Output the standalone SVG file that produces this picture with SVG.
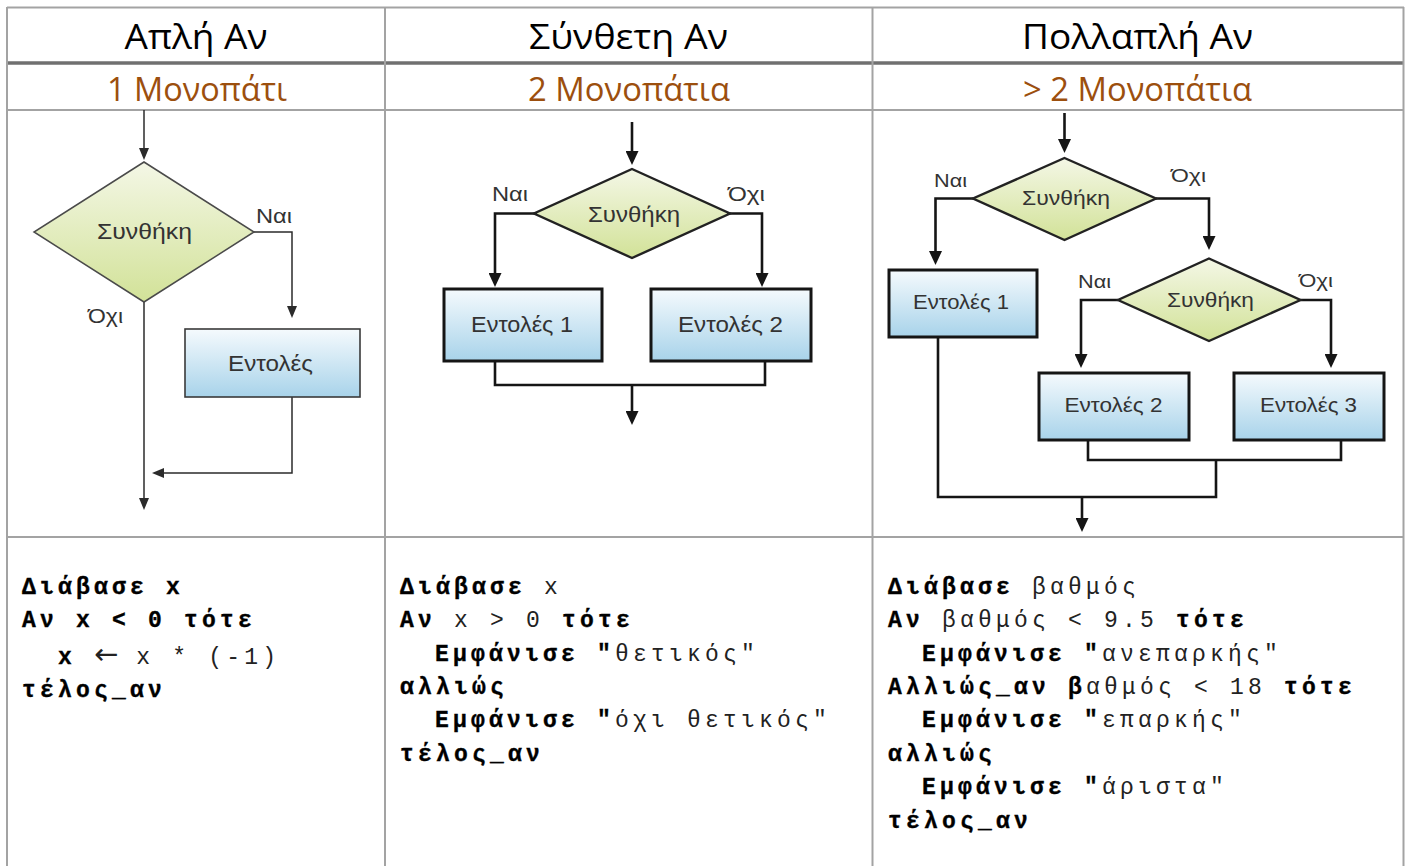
<svg xmlns="http://www.w3.org/2000/svg" width="1407" height="866" viewBox="0 0 1407 866">
  <style>
    .grid { stroke: #a3a3a3; stroke-width: 2; fill: none; }
    .grid-thick { stroke: #707070; stroke-width: 3.5; fill: none; }
    .head { font-family: "Open Sans", "Noto Sans", sans-serif; font-size: 35px; fill: #000; text-anchor: middle; }
    .sub { font-family: "Open Sans", "Noto Sans", sans-serif; font-size: 32px; fill: #9c4f0e; text-anchor: middle; }
    .lbl { font-family: "Liberation Sans", Arial, sans-serif; fill: #333; }
    .thin { stroke: #2b2b2b; stroke-width: 1.5; fill: none; }
    .bold { stroke: #151515; stroke-width: 2.6; fill: none; }
    .dec-thin { fill: url(#gDecision); stroke: #4a4a4a; stroke-width: 1.5; }
    .dec-bold { fill: url(#gDecision); stroke: #222; stroke-width: 2.4; }
    .box-thin { fill: url(#gProcess); stroke: #3a3a3a; stroke-width: 1.6; }
    .box-bold { fill: url(#gProcess); stroke: #151515; stroke-width: 3; }
    .code { font-family: "Liberation Mono", "Courier New", monospace; font-size: 23px; letter-spacing: 4.2px; fill: #222; white-space: pre; }
    .b { font-weight: bold; fill: #000; stroke: #000; stroke-width: 0.35px; }
    .arrow { font-family: "DejaVu Sans", sans-serif; font-size: 29px; letter-spacing: 0px; }
  </style>
  <defs>
    <linearGradient id="gDecision" x1="0" y1="0" x2="0" y2="1">
      <stop offset="0" stop-color="#f4f7e6"/>
      <stop offset="1" stop-color="#d2e298"/>
    </linearGradient>
    <linearGradient id="gProcess" x1="0" y1="0" x2="0" y2="1">
      <stop offset="0" stop-color="#f5fafd"/>
      <stop offset="1" stop-color="#a8d3ea"/>
    </linearGradient>
    <marker id="ahThin" viewBox="0 0 12 10" markerWidth="12" markerHeight="10" refX="8" refY="5" orient="auto" markerUnits="userSpaceOnUse">
      <path d="M0,0 L12,5 L0,10 z" fill="#2b2b2b"/>
    </marker>
    <marker id="ahBold" viewBox="0 0 14 13" markerWidth="14" markerHeight="13" refX="9" refY="6.5" orient="auto" markerUnits="userSpaceOnUse">
      <path d="M0,0 L14,6.5 L0,13 z" fill="#151515"/>
    </marker>
  </defs>

  <!-- table grid -->
  <g id="table">
    <line class="grid" x1="7" y1="7.5" x2="1404" y2="7.5"/>
    <line class="grid-thick" x1="7" y1="63" x2="1404" y2="63"/>
    <line class="grid" x1="7" y1="110" x2="1404" y2="110"/>
    <line class="grid" x1="7" y1="537" x2="1404" y2="537"/>
    <line class="grid" x1="7" y1="7" x2="7" y2="866"/>
    <line class="grid" x1="385" y1="7" x2="385" y2="866"/>
    <line class="grid" x1="872.5" y1="7" x2="872.5" y2="866"/>
    <line class="grid" x1="1403.5" y1="7" x2="1403.5" y2="866"/>
  </g>

  <!-- column headings -->
  <g id="headings">
    <text class="head" x="196" y="49" textLength="143" lengthAdjust="spacingAndGlyphs">Απλή Αν</text>
    <text class="head" x="628.5" y="49" textLength="199" lengthAdjust="spacingAndGlyphs">Σύνθετη Αν</text>
    <text class="head" x="1137.5" y="49" textLength="231" lengthAdjust="spacingAndGlyphs">Πολλαπλή Αν</text>
    <text class="sub" x="197" y="101" textLength="180" lengthAdjust="spacingAndGlyphs">1 Μονοπάτι</text>
    <text class="sub" x="629" y="101" textLength="202" lengthAdjust="spacingAndGlyphs">2 Μονοπάτια</text>
    <text class="sub" x="1137.5" y="101" textLength="229" lengthAdjust="spacingAndGlyphs">&gt; 2 Μονοπάτια</text>
  </g>

  <!-- simple if: flow lines -->
  <g id="connectors-simple">
    <path class="thin" d="M144,110 V156" marker-end="url(#ahThin)"/>
    <path class="thin" d="M254,232 H292 V314" marker-end="url(#ahThin)"/>
    <path class="thin" d="M292,397 V473 H156" marker-end="url(#ahThin)"/>
    <path class="thin" d="M144,302 V506" marker-end="url(#ahThin)"/>
  </g>
  <g id="simple-cond">
    <polygon class="dec-thin" points="144,162 254,232 144,302 34,232"/>
    <text class="lbl" x="97" y="239" font-size="22" textLength="95" lengthAdjust="spacingAndGlyphs">Συνθήκη</text>
  </g>
  <g id="simple-yes"><text class="lbl" x="256" y="223" font-size="20" textLength="36" lengthAdjust="spacingAndGlyphs">Ναι</text></g>
  <g id="simple-no"><text class="lbl" x="88" y="323" font-size="20" textLength="35" lengthAdjust="spacingAndGlyphs">Όχι</text></g>
  <g id="simple-stmts">
    <rect class="box-thin" x="185" y="329" width="175" height="68"/>
    <text class="lbl" x="228" y="371" font-size="22" textLength="85" lengthAdjust="spacingAndGlyphs">Εντολές</text>
  </g>

  <!-- if/else: flow lines -->
  <g id="connectors-double">
    <path class="bold" d="M632,122 V160" marker-end="url(#ahBold)"/>
    <path class="bold" d="M534,213.5 H495 V282" marker-end="url(#ahBold)"/>
    <path class="bold" d="M730,213.5 H762 V282" marker-end="url(#ahBold)"/>
    <path class="bold" d="M495,361 V385 H765 V361"/>
    <path class="bold" d="M632,385 V420" marker-end="url(#ahBold)"/>
  </g>
  <g id="double-cond">
    <polygon class="dec-bold" points="632,169 730,213.5 632,258 534,213.5"/>
    <text class="lbl" x="588" y="222" font-size="22" textLength="92" lengthAdjust="spacingAndGlyphs">Συνθήκη</text>
  </g>
  <g id="double-yes"><text class="lbl" x="492" y="201" font-size="20" textLength="36" lengthAdjust="spacingAndGlyphs">Ναι</text></g>
  <g id="double-no"><text class="lbl" x="728" y="201" font-size="20" textLength="37" lengthAdjust="spacingAndGlyphs">Όχι</text></g>
  <g id="double-stmts1">
    <rect class="box-bold" x="444" y="289" width="158" height="72"/>
    <text class="lbl" x="471" y="332" font-size="22" textLength="102" lengthAdjust="spacingAndGlyphs">Εντολές 1</text>
  </g>
  <g id="double-stmts2">
    <rect class="box-bold" x="651" y="289" width="160" height="72"/>
    <text class="lbl" x="678" y="332" font-size="22" textLength="105" lengthAdjust="spacingAndGlyphs">Εντολές 2</text>
  </g>

  <!-- multiple if: flow lines -->
  <g id="connectors-multi">
    <path class="bold" d="M1064.5,113 V148" marker-end="url(#ahBold)"/>
    <path class="bold" d="M973,198.5 H935.5 V260" marker-end="url(#ahBold)"/>
    <path class="bold" d="M1156,198.5 H1209 V245" marker-end="url(#ahBold)"/>
    <path class="bold" d="M1118,300 H1081 V363" marker-end="url(#ahBold)"/>
    <path class="bold" d="M1300.5,300 H1331 V363" marker-end="url(#ahBold)"/>
    <path class="bold" d="M1088,440 V460 H1341 V440"/>
    <path class="bold" d="M938,337 V497 H1216 V460"/>
    <path class="bold" d="M1082,497 V527" marker-end="url(#ahBold)"/>
  </g>
  <g id="multi-cond1">
    <polygon class="dec-bold" points="1064.5,158 1156,198.5 1064.5,240 973,198.5"/>
    <text class="lbl" x="1022" y="205" font-size="21" textLength="88" lengthAdjust="spacingAndGlyphs">Συνθήκη</text>
  </g>
  <g id="multi-yes1"><text class="lbl" x="934" y="187" font-size="19" textLength="33" lengthAdjust="spacingAndGlyphs">Ναι</text></g>
  <g id="multi-no1"><text class="lbl" x="1171" y="182" font-size="19" textLength="35" lengthAdjust="spacingAndGlyphs">Όχι</text></g>
  <g id="multi-stmts1">
    <rect class="box-bold" x="889" y="270" width="148" height="67"/>
    <text class="lbl" x="913" y="309" font-size="21" textLength="96" lengthAdjust="spacingAndGlyphs">Εντολές 1</text>
  </g>
  <g id="multi-cond2">
    <polygon class="dec-bold" points="1209,258.5 1300.5,300 1209,341 1118,300"/>
    <text class="lbl" x="1167" y="307" font-size="21" textLength="87" lengthAdjust="spacingAndGlyphs">Συνθήκη</text>
  </g>
  <g id="multi-yes2"><text class="lbl" x="1078" y="288" font-size="19" textLength="33" lengthAdjust="spacingAndGlyphs">Ναι</text></g>
  <g id="multi-no2"><text class="lbl" x="1299" y="287" font-size="19" textLength="34" lengthAdjust="spacingAndGlyphs">Όχι</text></g>
  <g id="multi-stmts2">
    <rect class="box-bold" x="1039" y="373" width="150" height="67"/>
    <text class="lbl" x="1064.5" y="412" font-size="21" textLength="98" lengthAdjust="spacingAndGlyphs">Εντολές 2</text>
  </g>
  <g id="multi-stmts3">
    <rect class="box-bold" x="1234" y="373" width="150" height="67"/>
    <text class="lbl" x="1260" y="412" font-size="21" textLength="97" lengthAdjust="spacingAndGlyphs">Εντολές 3</text>
  </g>

  <!-- pseudocode -->
  <g id="code-simple">
    <text class="code" x="22" y="594"><tspan class="b">Διάβασε x</tspan></text>
    <text class="code" x="22" y="627"><tspan class="b">Αν x &lt; 0 τότε</tspan></text>
    <text class="code" x="58" y="664"><tspan class="b">x</tspan> <tspan class="arrow">←</tspan> x * (-1)</text>
    <text class="code" x="22" y="697"><tspan class="b">τέλος_αν</tspan></text>
  </g>
  <g id="code-double">
    <text class="code" x="400" y="594"><tspan class="b">Διάβασε</tspan> x</text>
    <text class="code" x="400" y="627"><tspan class="b">Αν</tspan> x &gt; 0 <tspan class="b">τότε</tspan></text>
    <text class="code" x="435" y="661"><tspan class="b">Εμφάνισε "</tspan>θετικός"</text>
    <text class="code" x="400" y="694"><tspan class="b">αλλιώς</tspan></text>
    <text class="code" x="435" y="727"><tspan class="b">Εμφάνισε "</tspan>όχι θετικός"</text>
    <text class="code" x="400" y="761"><tspan class="b">τέλος_αν</tspan></text>
  </g>
  <g id="code-multi">
    <text class="code" x="888" y="594"><tspan class="b">Διάβασε</tspan> βαθμός</text>
    <text class="code" x="888" y="627"><tspan class="b">Αν</tspan> βαθμός &lt; 9.5 <tspan class="b">τότε</tspan></text>
    <text class="code" x="922" y="661"><tspan class="b">Εμφάνισε "</tspan>ανεπαρκής"</text>
    <text class="code" x="888" y="694"><tspan class="b">Αλλιώς_αν β</tspan>αθμός &lt; 18 <tspan class="b">τότε</tspan></text>
    <text class="code" x="922" y="727"><tspan class="b">Εμφάνισε "</tspan>επαρκής"</text>
    <text class="code" x="888" y="761"><tspan class="b">αλλιώς</tspan></text>
    <text class="code" x="922" y="794"><tspan class="b">Εμφάνισε "</tspan>άριστα"</text>
    <text class="code" x="888" y="828"><tspan class="b">τέλος_αν</tspan></text>
  </g>
</svg>
